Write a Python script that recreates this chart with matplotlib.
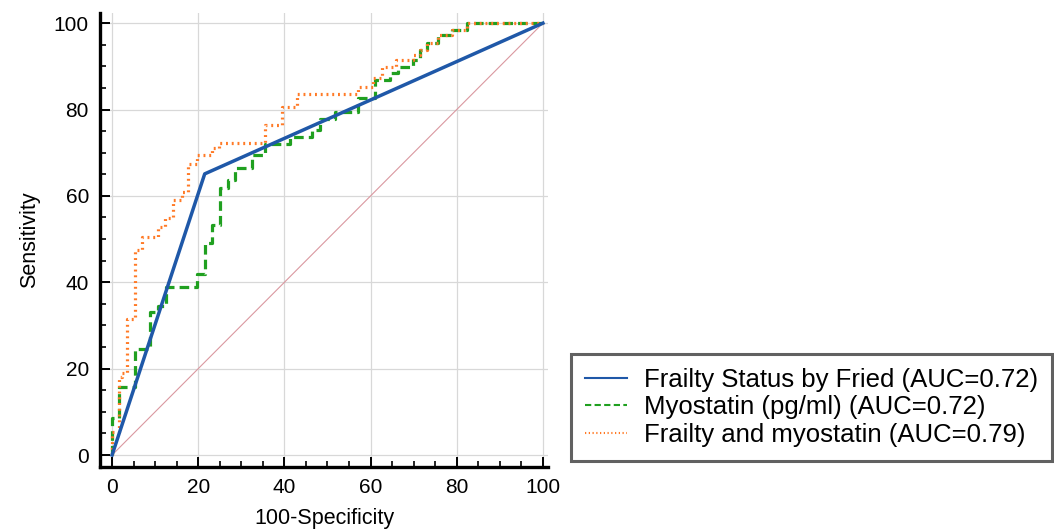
import numpy as np
import matplotlib.pyplot as plt

plt.rcParams['font.family'] = ['Liberation Sans', 'DejaVu Sans']

# ROC points (100-specificity, sensitivity): x where the step rises, y after the rise
fried_x = [0, 21.5, 100]
fried_y = [0, 65.1, 100]

myo_x = [0, 0, 1.5, 5.3, 8.8, 10.7, 12.5, 19.6, 21.6, 23.3, 25.0, 26.8, 28.5,
         32.4, 35.5, 41.3, 46.5, 48.3, 51.7, 57.1, 61.0, 64.5, 66.4, 69.9,
         71.5, 73.0, 75.7, 78.8, 82.3, 100]
myo_y = [0, 8.5, 15.8, 24.5, 33.2, 34.5, 39.0, 42.0, 49.0, 53.2, 61.9, 63.7,
         66.4, 69.4, 72.1, 73.7, 75.2, 77.9, 79.5, 82.6, 86.8, 88.4, 89.9, 91.4,
         93.8, 95.3, 97.2, 98.4, 100, 100]

comb_x = [0, 0, 1.5, 2.2, 3.4, 5.3, 6.9, 10.7, 12.3, 14.2, 16.2, 17.7, 19.6,
          23.1, 24.7, 35.5, 39.4, 42.9, 57.1, 60.6, 62.6, 66.0, 69.9, 71.5,
          73.0, 75.7, 78.8, 82.3, 100]
comb_y = [0, 5.4, 18.1, 18.9, 31.6, 47.5, 50.5, 52.9, 54.8, 59.0, 60.9, 67.5,
          69.4, 71.0, 72.2, 76.4, 80.6, 83.7, 85.3, 87.2, 89.9, 91.4, 92.6,
          93.8, 95.3, 97.2, 98.4, 100, 100]

labels = ['Frailty Status by Fried (AUC=0.72)',
          'Myostatin (pg/ml) (AUC=0.72)',
          'Frailty and myostatin (AUC=0.79)']

fig = plt.figure(figsize=(10.54, 5.29), dpi=100)
ax = fig.add_axes([0.0949, 0.117, 0.4251, 0.858])

ax.plot([0, 100], [0, 100], color='#da98a0', lw=0.8, zorder=1)
ax.plot(fried_x, fried_y, color='#1f58a8', lw=2.5, label=labels[0], zorder=3)
ax.step(myo_x, myo_y, where='post', color='#20a020', lw=2.3,
        ls=(0, (3.0, 1.6)), label=labels[1], zorder=2)
ax.step(comb_x, comb_y, where='post', color='#ff7a26', lw=2.3,
        ls=(0, (0.6, 1.2)), label=labels[2], zorder=2.5)

ax.set_xlim(-2.8, 101.2)
ax.set_ylim(-2.8, 102.3)
ax.set_xticks(np.arange(0, 101, 20))
ax.set_yticks(np.arange(0, 101, 20))
ax.set_xticks(np.arange(0, 101, 5), minor=True)
ax.set_yticks(np.arange(0, 101, 5), minor=True)
ax.grid(True, which='major', color='#d8d8d8', lw=0.9)
ax.set_axisbelow(True)

for s in ['top', 'right']:
    ax.spines[s].set_visible(False)
for s in ['left', 'bottom']:
    ax.spines[s].set_linewidth(2.4)
    ax.spines[s].set_color('black')

ax.tick_params(which='major', direction='in', length=7, width=1.4,
               labelsize=15, pad=8)
ax.tick_params(which='minor', direction='in', length=4, width=1.2)

ax.set_xlabel('100-Specificity', fontsize=15.5, labelpad=8)
ax.set_ylabel('Sensitivity', fontsize=15.5, labelpad=10)

leg = fig.legend(loc='center', bbox_to_anchor=(0.770, 0.2297), fontsize=18.5,
                 frameon=True, fancybox=False, labelspacing=0.15,
                 handlelength=1.65, handletextpad=0.65, borderpad=0.55,
                 borderaxespad=0)
leg.get_frame().set_edgecolor('#3a3a3a')
leg.get_frame().set_linewidth(2.2)
for line in leg.get_lines():
    line.set_linewidth(1.5)

fig.savefig('out.png', dpi=100)
